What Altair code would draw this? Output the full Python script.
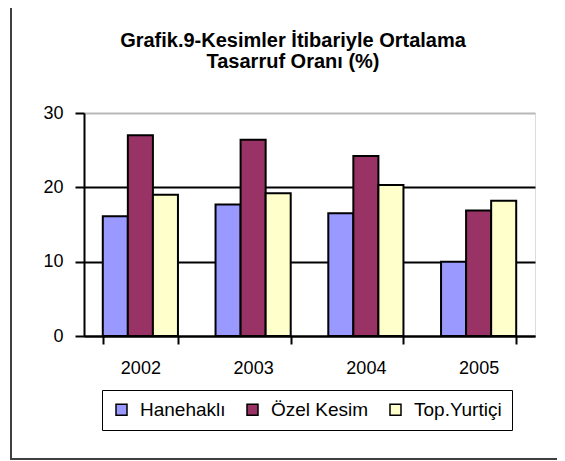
import altair as alt
import pandas as pd

years = ["2002", "2003", "2004", "2005"]
series = ["Hanehaklı", "Özel Kesim", "Top.Yurtiçi"]
hanehakli = [16.1, 17.7, 16.5, 10.0]
ozel_kesim = [27.0, 26.4, 24.2, 16.9]
top_yurtici = [19.0, 19.2, 20.3, 18.2]
colors = ["#9999FF", "#993366", "#FFFFCC"]
y_ticks = [0, 10, 20, 30]
title_lines = ["Grafik.9-Kesimler İtibariyle Ortalama", "Tasarruf Oranı (%)"]

rows = []
for name, vals in zip(series, [hanehakli, ozel_kesim, top_yurtici]):
    for yr, v in zip(years, vals):
        rows.append({"yil": yr, "seri": name, "deger": v})
df = pd.DataFrame(rows)

FONT = "Liberation Sans"

bars = alt.Chart(df).mark_bar(stroke="black", strokeWidth=2).encode(
    x=alt.X("yil:N", sort=years, title=None,
            scale=alt.Scale(paddingInner=1/3, paddingOuter=1/6),
            axis=alt.Axis(labelAngle=0, labelFontSize=18, labelFont=FONT,
                          labelColor="black", labelPadding=15,
                          domainColor="black", domainWidth=2,
                          tickColor="black", tickWidth=2, tickSize=8,
                          tickBand="extent", grid=False)),
    xOffset=alt.XOffset("seri:N", sort=series, scale=alt.Scale(paddingInner=0, paddingOuter=0)),
    y=alt.Y("deger:Q", title=None,
            scale=alt.Scale(domain=[0, 30], nice=False),
            axis=alt.Axis(values=y_ticks, labelFontSize=18, labelFont=FONT,
                          labelColor="black", labelPadding=12,
                          domainColor="black", domainWidth=2,
                          tickColor="black", tickWidth=2, tickSize=9,
                          grid=True, gridWidth=2,
                          gridColor={"condition": {"test": "datum.value == 30", "value": "#b8b8b8"},
                                     "value": "black"})),
    fill=alt.Fill("seri:N", sort=series,
                  scale=alt.Scale(domain=series, range=colors),
                  legend=alt.Legend(orient="none", legendX=18, legendY=277,
                                    direction="horizontal", title=None,
                                    symbolType="square", symbolSize=121,
                                    symbolStrokeColor="black", symbolStrokeWidth=1.5,
                                    labelFontSize=19, labelFont=FONT, labelColor="black",
                                    labelOffset=9, columnPadding=17,
                                    strokeColor="black", fillColor="white", padding=10)),
)

border = alt.Chart(alt.Data(values=[{"a": 1}])).mark_rect(
    fill=None, stroke="#404040", strokeWidth=2
).encode(
    x=alt.value(-73), x2=alt.value(700),
    y=alt.value(-200), y2=alt.value(346),
)

title = alt.Chart(alt.Data(values=[{"t": "\n".join(title_lines)}])).mark_text(
    font=FONT, fontSize=20, fontWeight="bold", color="black",
    align="center", baseline="alphabetic", lineBreak="\n", lineHeight=21,
).encode(
    text="t:N", x=alt.value(209), y=alt.value(-66),
)

chart = alt.layer(border, bars, title).properties(
    width=451, height=223,
    padding={"left": 76, "top": 105, "right": 22, "bottom": 124},
    autosize=alt.AutoSizeParams(type="none"),
).configure_view(stroke=None).configure(background="white")

chart.save("out.html", embed_options={"renderer": "svg", "actions": False})
